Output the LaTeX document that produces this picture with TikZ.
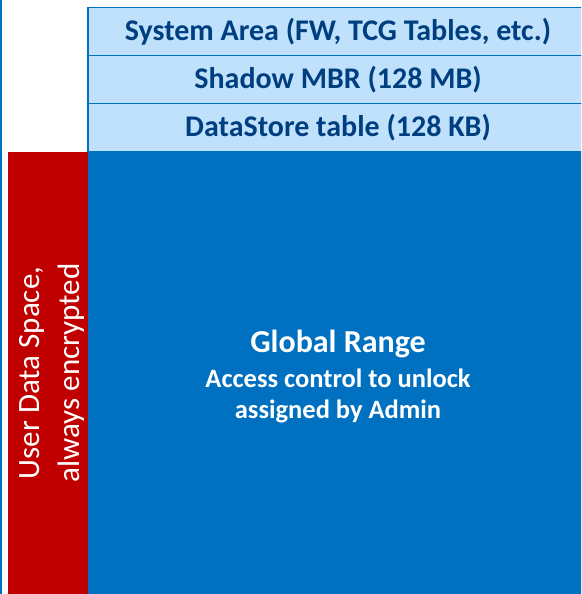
\documentclass[tikz,border=0pt]{standalone}
\usepackage{fontspec}
\setmainfont{Carlito}
\usetikzlibrary{positioning}
\definecolor{drvblue}{HTML}{0070C0}
\definecolor{drvlight}{HTML}{BFE1FC}
\definecolor{drvtext}{HTML}{003F7F}
\definecolor{drvred}{HTML}{C00000}
\newcommand{\rangetitle}{\fontsize{32}{38}\selectfont}
\tikzset{
  sysrow/.style={rectangle, draw=drvblue, line width=1.5pt, fill=drvlight, outer sep=0pt, inner sep=0pt,
    minimum width=500pt, minimum height=48pt, text=drvtext, font=\fontsize{30}{36}\selectfont\bfseries},
  userbox/.style={rectangle, outer sep=0pt, inner sep=0pt, text=white, align=center}
}
\begin{document}
\begin{tikzpicture}[x=1pt, y=-1pt]
  \useasboundingbox (0,0) rectangle (581,594);
  \clip (0,0) rectangle (581,594);
  \draw[drvblue, line width=1.5pt] (0.75,0) -- (0.75,594);
  \node[sysrow, anchor=north west] (sysarea) at (88,7.5) {System Area (FW, TCG Tables, etc.)};
  \node[sysrow, below = 0pt of sysarea] (shadow) {Shadow MBR (128 MB)};
  \node[sysrow, below = 0pt of shadow] (datastore) {DataStore table (128 KB)};
  \node[userbox, fill=drvblue, below = 0pt of datastore, minimum width=500pt, minimum height=443pt,
    font=\bfseries\fontsize{26.5}{31}\selectfont] (global)
    {\rangetitle\rule{0pt}{29pt}Global Range\\[3.5pt]
     Access control to unlock\\
     assigned by Admin};
  \node[userbox, fill=drvred, rotate=90, minimum width=443pt, minimum height=80pt,
    font=\fontsize{31}{40}\selectfont] (userdata) at (48,373) {\rule{0pt}{28pt}User Data Space,\\ always encrypted};
\end{tikzpicture}
\end{document}
